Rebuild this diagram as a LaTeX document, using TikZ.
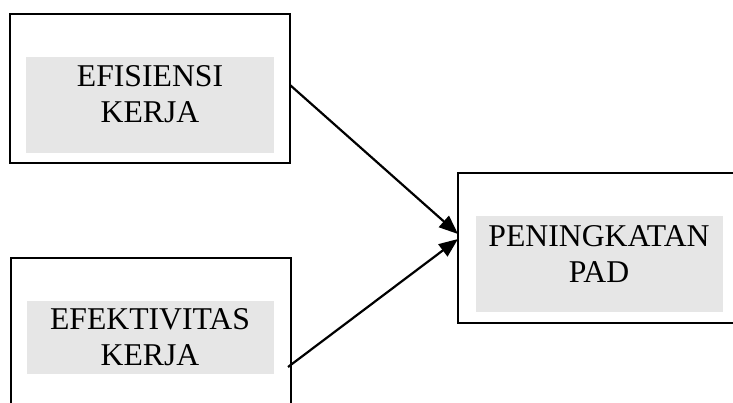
\documentclass[tikz,border=0pt]{standalone}
\usepackage{fontspec}
\setmainfont{Liberation Serif}
\usetikzlibrary{arrows.meta}
\definecolor{boxgray}{RGB}{230,230,230}
\tikzset{
  outerbox/.style={draw=black, line width=2.2pt, fill=none},
  graybox/.style={fill=boxgray, draw=none},
  label/.style={inner sep=0pt, align=center, anchor=north, font=\fontsize{31.7}{36.5}\selectfont},
  conn/.style={line width=2.2pt, -{Triangle[length=19pt,width=15pt]}}
}
\begin{document}
\begin{tikzpicture}[x=1pt,y=-1pt]
\useasboundingbox (0,0) rectangle (733,403);
\clip (0,0) rectangle (733,403);
% outer boxes
\draw[outerbox] (10,14) rectangle (290,163);
\draw[outerbox] (11,258) rectangle (291,430);
\draw[outerbox] (458,173) rectangle (760,323);
% gray panels
\node[graybox, minimum width=248pt, minimum height=96pt, inner sep=0pt] (g1) at (150,105) {};
\node[graybox, minimum width=247pt, minimum height=73pt, inner sep=0pt] (g2) at (150.5,337.5) {};
\node[graybox, minimum width=247pt, minimum height=96pt, inner sep=0pt] (g3) at (599.5,264) {};
% texts
\node[label] (t1) at (150,65) {EFISIENSI\\KERJA};
\node[label] (t2) at (150,308) {EFEKTIVITAS\\KERJA};
\node[label] (t3) at (599,225) {PENINGKATAN\\PAD};
% connector ends
\coordinate (s1) at (290,85);
\coordinate (s2) at (288,367);
\coordinate (e1) at (458,234);
\coordinate (e2) at (458,239);
\draw[conn] (s1) -- (e1);
\draw[conn] (s2) -- (e2);
\end{tikzpicture}
\end{document}
